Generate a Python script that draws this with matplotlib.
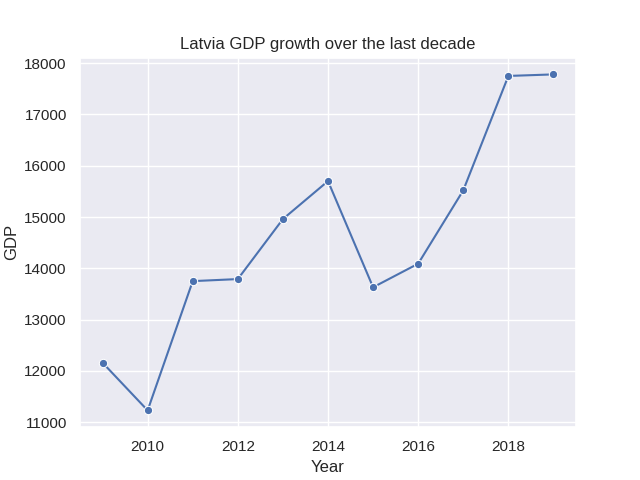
import matplotlib
matplotlib.use("Agg")
import matplotlib.pyplot as plt
import seaborn as sns

years = [2009, 2010, 2011, 2012, 2013, 2014, 2015, 2016, 2017, 2018, 2019]
gdp = [12160, 11230, 13750, 13790, 14960, 15700, 13630, 14090, 15520, 17750, 17780]

sns.set_theme(style="darkgrid")
plt.rcParams['font.family'] = ['Liberation Sans', 'DejaVu Sans']
fig, ax = plt.subplots(figsize=(6.4, 4.8), dpi=100)
sns.lineplot(x=years, y=gdp, marker="o", ax=ax)
ax.set_title("Latvia GDP growth over the last decade")
ax.set_xlabel("Year")
ax.set_ylabel("GDP")
fig.savefig("out.png")
